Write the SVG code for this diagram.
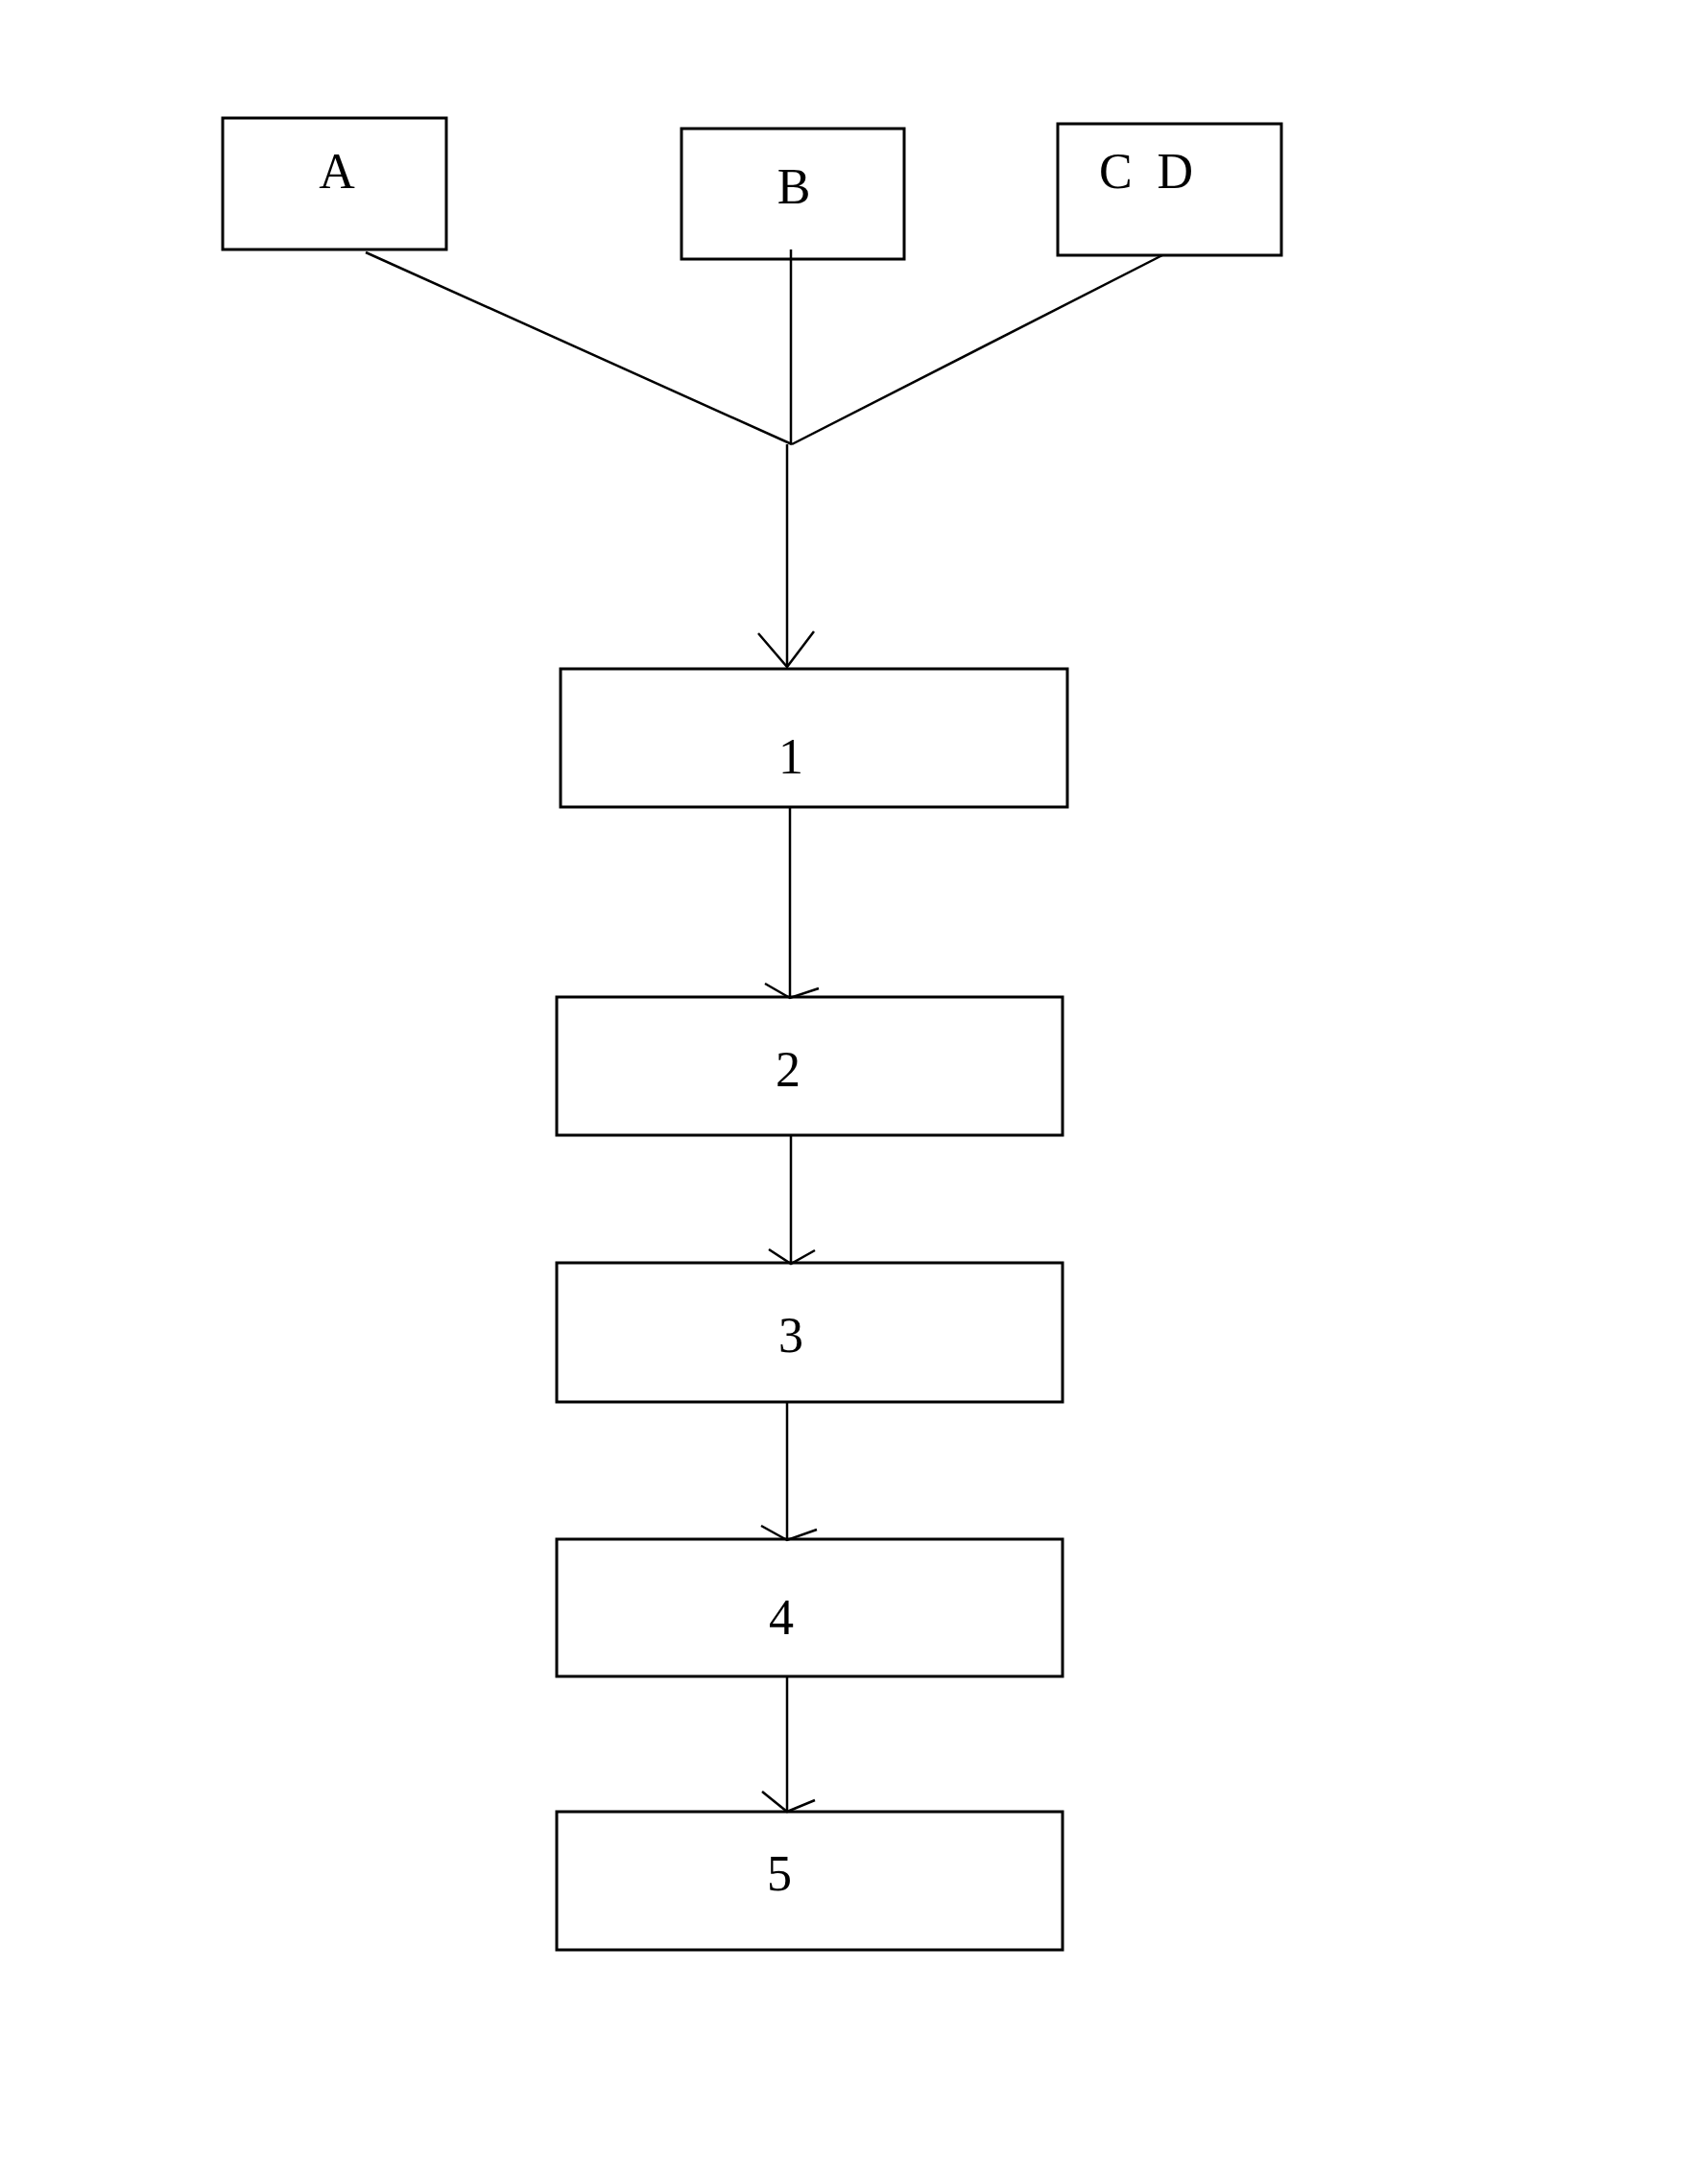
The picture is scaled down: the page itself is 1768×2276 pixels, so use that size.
<svg xmlns="http://www.w3.org/2000/svg" width="1768" height="2276" viewBox="0 0 1768 2276">
<style>
rect{fill:#fff;stroke:#000;stroke-width:3}
line{stroke:#000;stroke-width:2.5}
.h{fill:none;stroke:#000;stroke-width:2.5}
text{font-family:"Liberation Serif",serif;font-size:52px;text-anchor:middle;fill:#000}
</style>
<rect width="1768" height="2276" style="fill:#fff;stroke:none"/>
<g id="nA"><rect x="232" y="123" width="233" height="137"/><text x="351" y="196">A</text></g>
<g id="nB"><rect x="710" y="134" width="232" height="136"/><text x="827" y="212">B</text></g>
<g id="nCD"><rect x="1102" y="129" width="233" height="137"/><text x="1194" y="196" xml:space="preserve">C  D</text></g>
<g id="n1"><rect x="584" y="697" width="528" height="144"/><text x="824" y="806">1</text></g>
<g id="n2"><rect x="580" y="1039" width="527" height="144"/><text x="821" y="1132">2</text></g>
<g id="n3"><rect x="580" y="1316" width="527" height="145"/><text x="824" y="1409">3</text></g>
<g id="n4"><rect x="580" y="1604" width="527" height="143"/><text x="814" y="1703">4</text></g>
<g id="n5"><rect x="580" y="1888" width="527" height="144"/><text x="812" y="1970">5</text></g>
<g id="connectors">
<line x1="381" y1="263" x2="825" y2="463"/>
<line x1="824" y1="260" x2="824" y2="463"/>
<line x1="1211" y1="266" x2="825" y2="463"/>
<line x1="820" y1="463" x2="820" y2="695"/>
<path class="h" d="M790 660 L820 695 L848 658"/>
<line x1="823" y1="841" x2="823" y2="1040"/>
<path class="h" d="M797 1025 L823 1040 L853 1030"/>
<line x1="824" y1="1183" x2="824" y2="1317"/>
<path class="h" d="M801 1302 L824 1317 L849 1303"/>
<line x1="820" y1="1461" x2="820" y2="1605"/>
<path class="h" d="M793 1590 L820 1605 L851 1594"/>
<line x1="820" y1="1747" x2="820" y2="1888"/>
<path class="h" d="M794 1867 L820 1888 L849 1876"/>
</g>
</svg>
